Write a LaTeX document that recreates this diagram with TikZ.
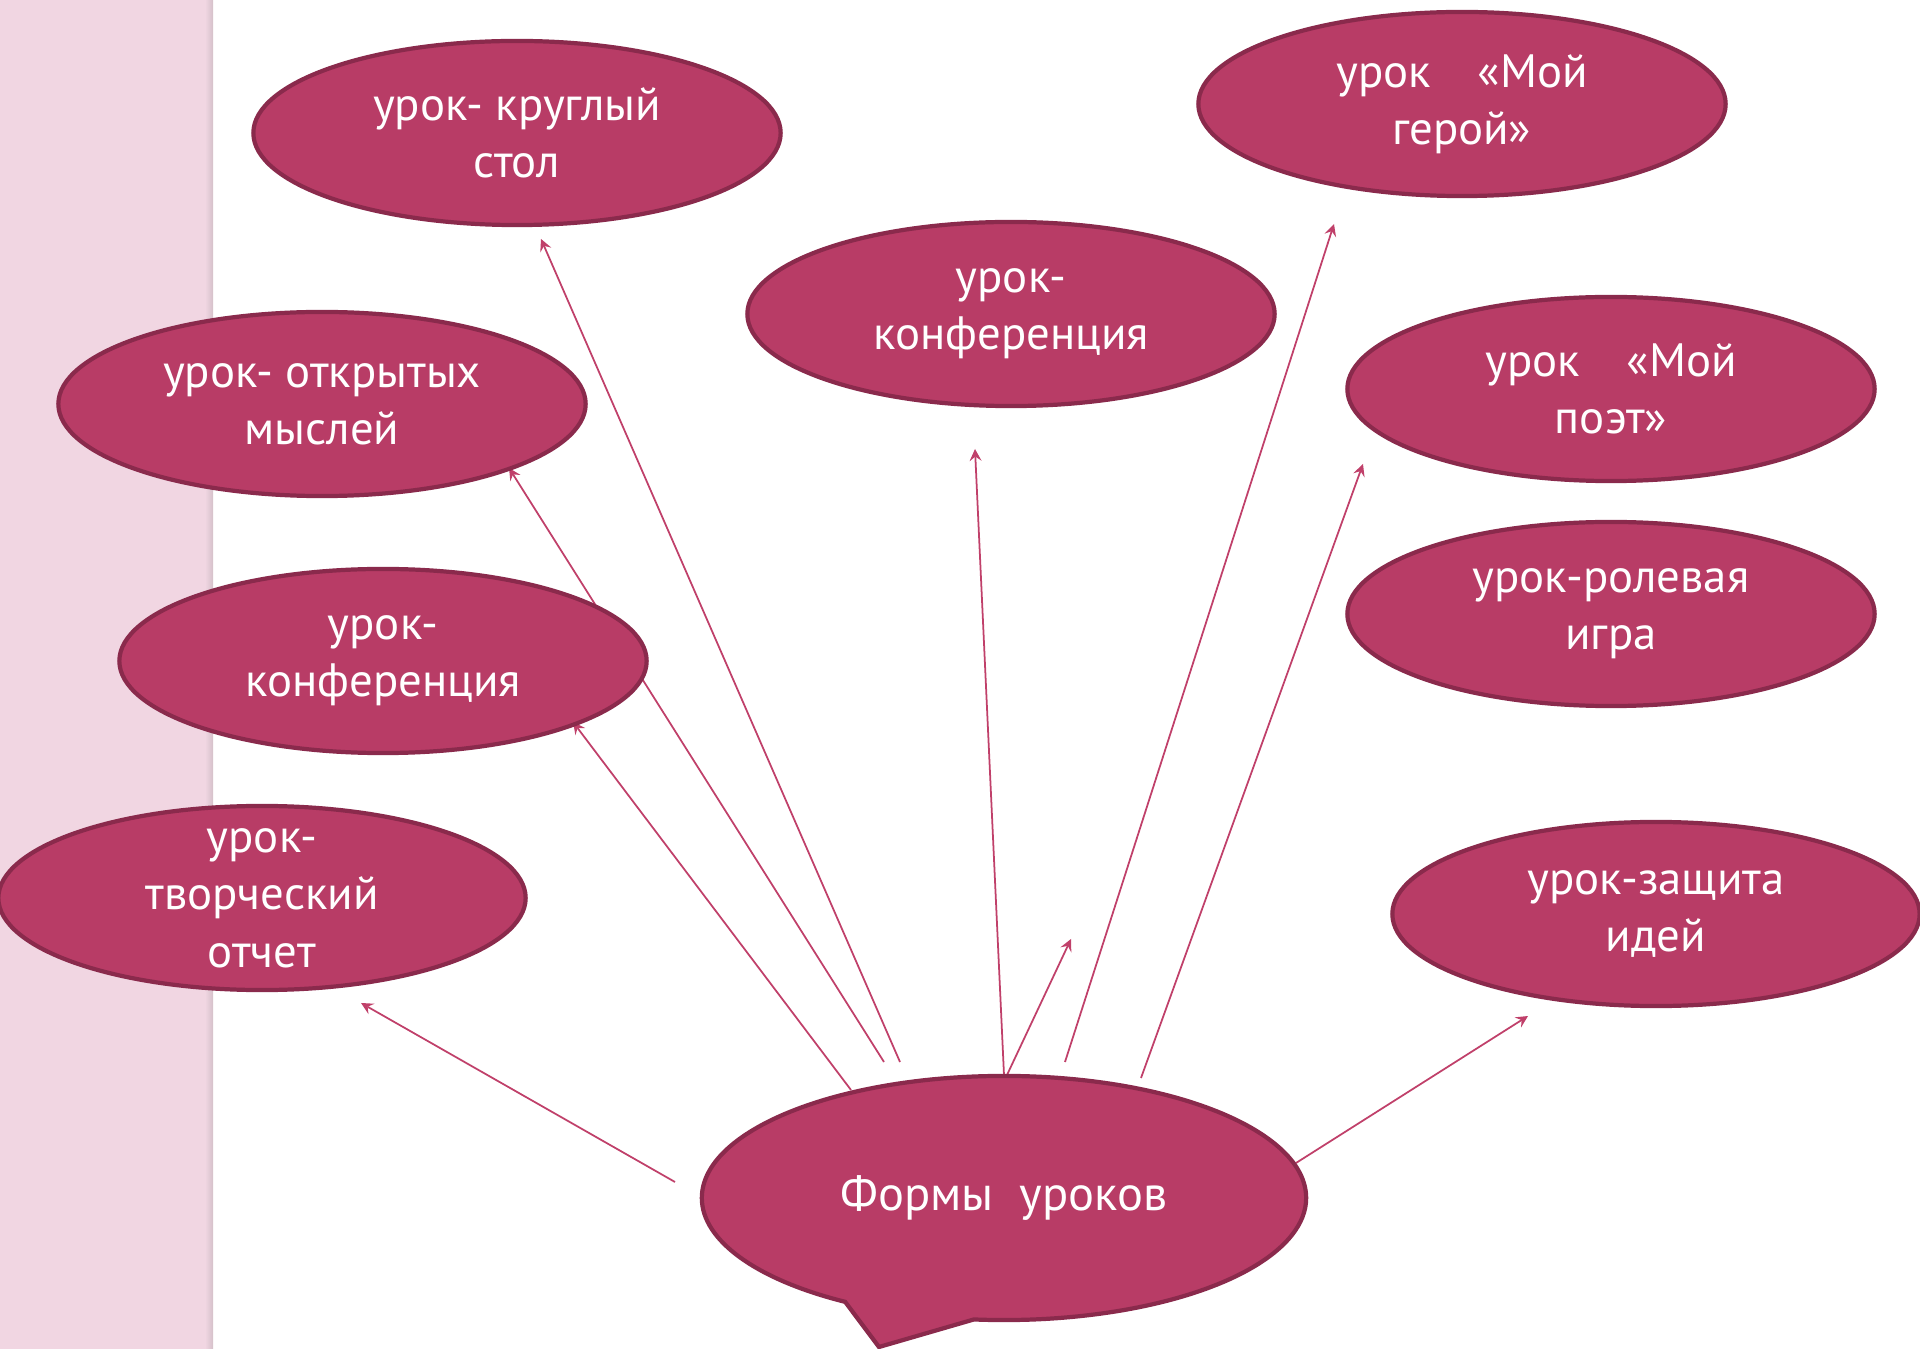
\documentclass[tikz,border=0pt]{standalone}
\usepackage{fontspec}
\setmainfont{PT Sans}
\usetikzlibrary{shapes,shapes.callouts,arrows,positioning}
\definecolor{lessonfill}{HTML}{B83C66}
\definecolor{lessonline}{HTML}{8A2A4C}
\definecolor{linkcol}{HTML}{C0406A}
\definecolor{stripcol}{HTML}{F1D6E2}

\begin{document}
\begin{tikzpicture}[x=0.01cm, y=-0.01cm,
  lesson/.style={ellipse, draw=lessonline, line width=1.2pt, fill=lessonfill, text=white,
    font=\fontsize{13.3}{16.3}\selectfont, align=center, inner sep=0pt,
    minimum width=5.27cm, minimum height=1.84cm},
  link/.style={->, >=stealth, draw=linkcol, line width=0.5pt}]

\useasboundingbox (0,0) rectangle (1920,1349);

% textured strip on the left
\fill[stripcol] (0,0) rectangle (205,1349);
\shade[left color=stripcol, right color=stripcol!75!gray] (205,0) rectangle (213,1349);

% arrow ends
\coordinate (a1) at (675,1182);  \coordinate (b1) at (361,1003);
\coordinate (a2) at (851,1090);  \coordinate (b2) at (573,722);
\coordinate (a3) at (884,1062);  \coordinate (b3) at (509,468);
\coordinate (a4) at (900,1062);  \coordinate (b4) at (541,239);
\coordinate (a5) at (1004,1075); \coordinate (b5) at (975,449);
\coordinate (a6) at (1007,1075); \coordinate (b6) at (1071,939);
\coordinate (a7) at (1065,1062); \coordinate (b7) at (1334,224);
\coordinate (a8) at (1141,1078); \coordinate (b8) at (1363,464);
\coordinate (a9) at (1296,1163); \coordinate (b9) at (1528,1016);

\foreach \i in {1,...,9}
    \draw[link] (a\i) -- (b\i);

\node[lesson] (roundtable) at (517,133) {урок- круглый\\стол};
\node[lesson] (hero) at (1462,104) {урок\quad «Мой\\герой»};
\node[lesson] (confmid) at (1011,314) {урок-\\конференция};
\node[lesson] (poet) at (1611,389) {урок\quad «Мой\\поэт»};
\node[lesson] (openthoughts) at (322,404) {урок- открытых\\мыслей};
\node[lesson] (roleplay) at (1611,614) {урок-ролевая\\игра};
\node[lesson] (confleft) at (383,661) {урок-\\конференция};
\node[lesson, inner ysep=-0.15cm] (report) at (262,898) {урок-\\творческий\\отчет};
\node[lesson] (defence) at (1656,914) {урок-защита\\идей};

\node[lesson, ellipse callout, callout absolute pointer={(879,1347)}, callout pointer arc=26,
    minimum width=6.04cm, minimum height=2.44cm, font=\fontsize{13.8}{18}\selectfont]
    (forms) at (1004,1198) {Формы\ \ уроков};

\end{tikzpicture}
\end{document}
